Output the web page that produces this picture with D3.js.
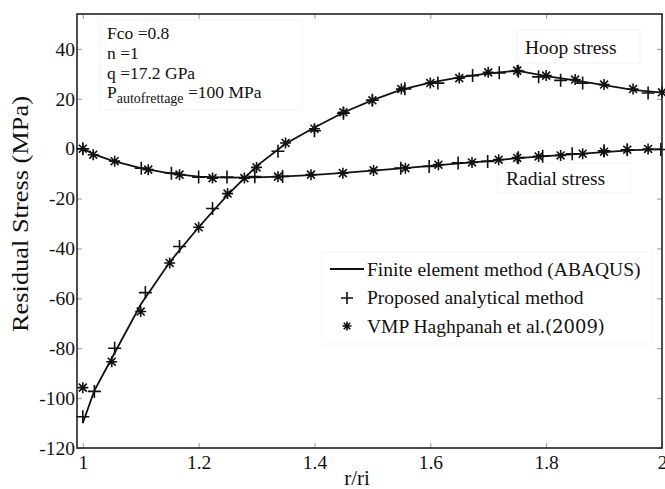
<!DOCTYPE html>
<html><head><meta charset="utf-8">
<script src="https://cdn.jsdelivr.net/npm/d3@7"></script>
<style>body{margin:0;background:#fff}svg{display:block}text{font-family:"Liberation Serif","Times New Roman",serif;fill:#111}</style>
</head><body>
<svg id="c" width="665" height="489"></svg>
<script>
// ---- data ----
const rFem = [1.0,1.02,1.05,1.1,1.15,1.2,1.25,1.3,1.35,1.4,1.45,1.5,1.55,1.6,1.65,1.7,1.75,1.8,1.85,1.9,1.95,2.0];
const hoopFem = [-110,-97,-84,-62.5,-45.5,-31.5,-18.5,-7,2,8.5,14.5,19.5,23.7,26.5,28.6,30.2,31.3,29.1,27.4,25.5,23.6,22.5];
const radialFem = [0,-2.3,-4.8,-7.8,-9.9,-11.2,-11.6,-11.5,-11.1,-10.5,-9.7,-8.8,-7.9,-6.9,-5.9,-5.0,-3.8,-3.0,-2.2,-1.4,-0.6,-0.2];

const hoopPlusR = [1.0,1.02,1.055,1.108,1.167,1.224,1.337,1.40,1.45,1.50,1.556,1.613,1.673,1.719,1.752,1.787,1.825,1.863,1.976];
const hoopPlusV = [-107.5,-97.3,-80,-57.7,-39.2,-24,-1,7.2,14.2,19.4,24,26.3,29.3,30.4,31,28.8,27.4,26.3,22.3];
const hoopStarR = [1.0,1.05,1.1,1.15,1.2,1.25,1.3,1.35,1.4,1.45,1.5,1.55,1.6,1.65,1.7,1.75,1.8,1.85,1.9,1.95,2.0];
const hoopStarV = [-95.8,-85.4,-65.3,-45.8,-31.5,-18,-7.5,2.3,8,14.6,19.4,23.9,26.3,28.3,30.6,31.3,29.3,27.7,25.7,23.9,22.6];

const radialPlusR = [1.0,1.101,1.153,1.2,1.249,1.297,1.345,1.549,1.598,1.648,1.699,1.752,1.794,1.845,1.9,1.94,1.998];
const radialPlusV = [0,-7.8,-9.8,-11.4,-11.4,-11.2,-11.1,-7.8,-7.1,-5.7,-5.1,-3.6,-3.0,-2.0,-0.8,-0.4,-0.3];
const radialStarR = [1.0,1.018,1.055,1.113,1.167,1.224,1.279,1.337,1.394,1.449,1.502,1.557,1.614,1.672,1.718,1.75,1.787,1.825,1.863,1.9,1.94,1.976];
const radialStarV = [0,-2.4,-5,-8.4,-10.4,-11.8,-11.8,-11.2,-10.4,-9.8,-8.7,-7.8,-6.4,-5.5,-4.4,-3.7,-3.1,-2.7,-2,-1.2,-0.4,-0.1];

const xTicks = [1,1.2,1.4,1.6,1.8,2];
const yTicks = [-120,-100,-80,-60,-40,-20,0,20,40];
const legendLabels = ["Finite element method (ABAQUS)","Proposed analytical method","VMP Haghpanah et al."];
const paramLines = ["Fco =0.8","n =1","q =17.2 GPa"];

// ---- layout ----
const svg = d3.select("#c");
const L=77,R=662,T=14,B=448;
const x = d3.scaleLinear().domain([0.99,2]).range([L,R]);
const y = d3.scaleLinear().domain([-120,54]).range([B,T]);
const ink="#111";

// faint boxes
const faint = (x0,y0,w,h)=>svg.append("rect").attr("x",x0).attr("y",y0).attr("width",w).attr("height",h).attr("fill","none").attr("stroke","#f3f3f3").attr("stroke-width",1);
faint(100,20,202,90); faint(517,30,123,33); faint(498,163,132,30); faint(322,252,330,92);

// axes
const fmt = d=>String(d);
const gx = svg.append("g").attr("transform",`translate(0,${B})`).call(d3.axisBottom(x).tickValues(xTicks).tickFormat(fmt).tickSizeInner(-5).tickSizeOuter(0).tickPadding(7));
const gy = svg.append("g").attr("transform",`translate(${L},0)`).call(d3.axisLeft(y).tickValues(yTicks).tickFormat(fmt).tickSizeInner(-5).tickSizeOuter(0).tickPadding(2));
const gt = svg.append("g").attr("transform",`translate(0,${T})`).call(d3.axisTop(x).tickValues(xTicks).tickFormat("").tickSizeInner(-5).tickSizeOuter(0));
const gr = svg.append("g").attr("transform",`translate(${R},0)`).call(d3.axisRight(y).tickValues(yTicks).tickFormat("").tickSizeInner(-5).tickSizeOuter(0));
[gx,gy,gt,gr].forEach(g=>{g.select(".domain").remove();g.selectAll("line").attr("stroke","#999").attr("stroke-width",1);g.selectAll("text").attr("font-size",19.5).attr("font-family","Liberation Serif").attr("fill",ink);});
svg.append("rect").attr("x",L).attr("y",T).attr("width",R-L).attr("height",B-T).attr("fill","none").attr("stroke","#222").attr("stroke-width",1.6);

// lines
const line = d3.line().x(d=>x(d[0])).y(d=>y(d[1]));
const plot = svg.append("g");
plot.append("path").datum(rFem.map((r,i)=>[r,hoopFem[i]])).attr("d",line).attr("fill","none").attr("stroke",ink).attr("stroke-width",1.8);
plot.append("path").datum(rFem.map((r,i)=>[r,radialFem[i]])).attr("d",line).attr("fill","none").attr("stroke",ink).attr("stroke-width",1.8);

const plusPath = s=>`M${-s},0H${s}M0,${-s}V${s}`;
const starPath = s=>{const d=s*0.72;return `M${-s},0H${s}M0,${-s}V${s}M${-d},${-d}L${d},${d}M${-d},${d}L${d},${-d}`;};
function markers(rs,vs,p){
  plot.append("g").selectAll("path").data(rs.map((r,i)=>[r,vs[i]])).join("path")
    .attr("transform",d=>`translate(${x(d[0])},${y(d[1])})`).attr("d",p)
    .attr("fill","none").attr("stroke",ink).attr("stroke-width",1.6);
}
markers(hoopPlusR,hoopPlusV,plusPath(6.5));
markers(radialPlusR,radialPlusV,plusPath(6.5));
markers(hoopStarR,hoopStarV,starPath(5.5));
markers(radialStarR,radialStarV,starPath(5.5));

// parameter annotation
paramLines.forEach((t,i)=>svg.append("text").attr("x",107).attr("y",39+i*20).attr("font-size",17.5).text(t));
const pt = svg.append("text").attr("x",107).attr("y",98).attr("font-size",17.5);
pt.append("tspan").text("P");
pt.append("tspan").attr("font-size",14).attr("dy",5).text("autofrettage");
pt.append("tspan").attr("dy",-5).text(" =100 MPa");

svg.append("text").attr("x",525).attr("y",54).attr("font-size",19.5).text("Hoop stress");
svg.append("text").attr("x",506).attr("y",185).attr("font-size",19.5).text("Radial stress");

// legend
svg.append("line").attr("x1",330).attr("x2",364).attr("y1",269).attr("y2",269).attr("stroke",ink).attr("stroke-width",1.8);
svg.append("path").attr("transform","translate(347,298)").attr("d",plusPath(6)).attr("stroke",ink).attr("stroke-width",1.6).attr("fill","none");
svg.append("path").attr("transform","translate(347,326)").attr("d",starPath(4.5)).attr("stroke",ink).attr("stroke-width",1.6).attr("fill","none");
svg.append("text").attr("x",367).attr("y",276).attr("font-size",19.5).text(legendLabels[0]);
svg.append("text").attr("x",367).attr("y",304).attr("font-size",19.5).text(legendLabels[1]);
const l3 = svg.append("text").attr("x",367).attr("y",333).attr("font-size",19.5);
l3.append("tspan").text(legendLabels[2]);
l3.append("tspan").attr("font-family","DejaVu Serif").attr("font-size",18).text("(2009)");

// axis titles
svg.append("text").attr("x",357).attr("y",485).attr("text-anchor","middle").attr("font-size",21).text("r/ri");
svg.append("text").attr("transform","translate(28,214) rotate(-90)").attr("text-anchor","middle").attr("font-size",24).attr("textLength",236).attr("lengthAdjust","spacingAndGlyphs").text("Residual Stress (MPa)");
</script>
</body></html>
